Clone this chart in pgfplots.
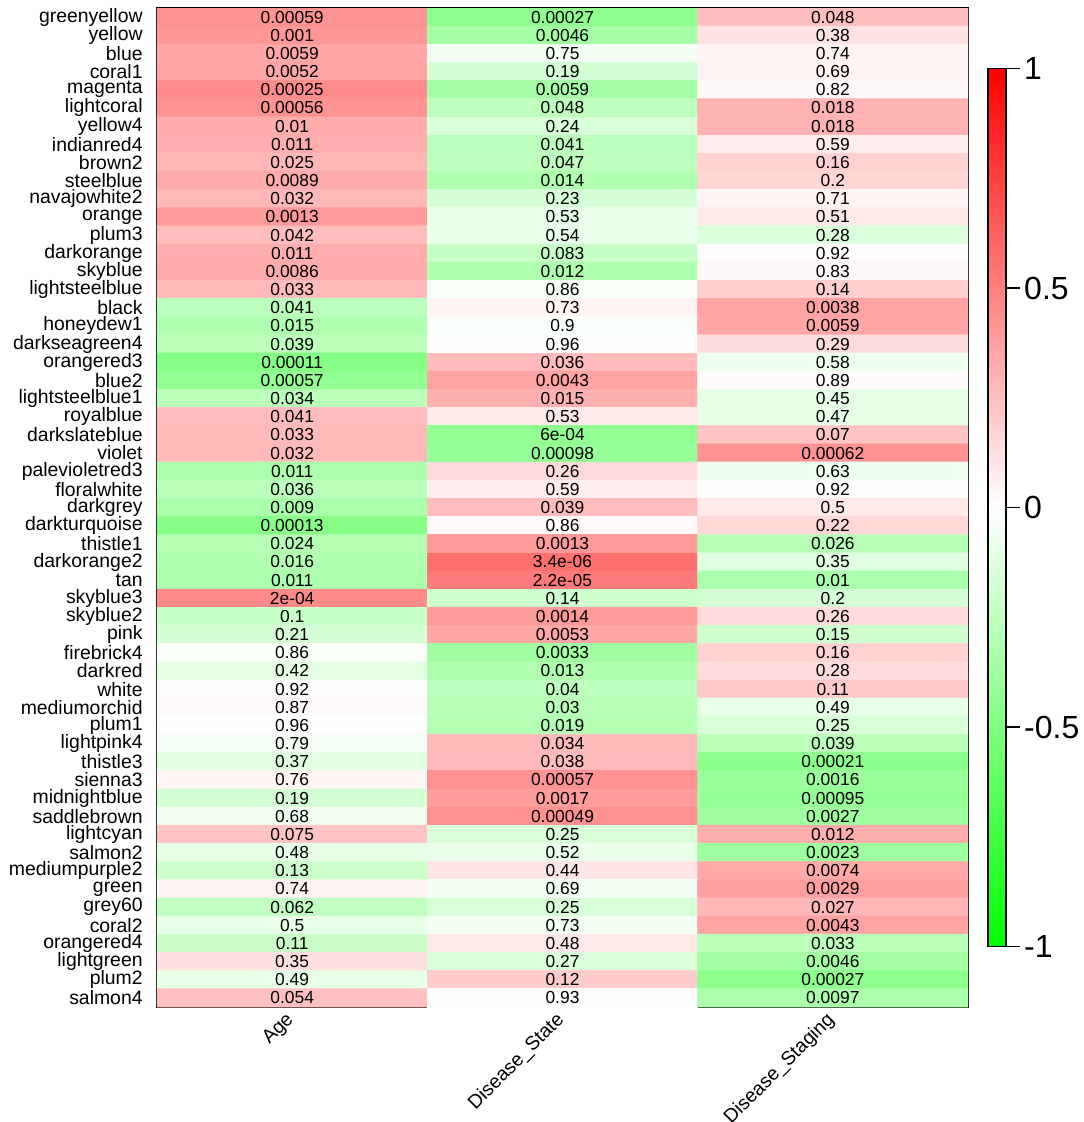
\documentclass[border=0pt]{standalone}
\usepackage{fontspec}
\setmainfont{Liberation Sans}
\usepackage{pgfplots}
\usepackage{pgfplotstable}
\pgfplotsset{compat=1.18}
\pgfplotstableread{
x y r p
0 0 0.425 0.00059
1 0 -0.450 0.00027
2 0 0.254 0.048
0 1 0.408 0.001
1 1 -0.356 0.0046
2 1 0.114 0.38
0 2 0.347 0.0059
1 2 -0.041 0.75
2 2 0.043 0.74
0 3 0.352 0.0052
1 3 -0.170 0.19
2 3 0.052 0.69
0 4 0.452 0.00025
1 4 -0.347 0.0059
2 4 0.029 0.82
0 5 0.427 0.00056
1 5 -0.254 0.048
2 5 0.301 0.018
0 6 0.326 0.01
1 6 -0.153 0.24
2 6 0.301 0.018
0 7 0.322 0.011
1 7 -0.262 0.041
2 7 0.070 0.59
0 8 0.286 0.025
1 8 -0.255 0.047
2 8 0.182 0.16
0 9 0.330 0.0089
1 9 -0.311 0.014
2 9 0.167 0.2
0 10 0.274 0.032
1 10 -0.155 0.23
2 10 0.049 0.71
0 11 0.398 0.0013
1 11 -0.082 0.53
2 11 0.086 0.51
0 12 0.261 0.042
1 12 -0.080 0.54
2 12 -0.140 0.28
0 13 0.322 0.011
1 13 -0.224 0.083
2 13 0.013 0.92
0 14 0.332 0.0086
1 14 -0.317 0.012
2 14 0.028 0.83
0 15 0.272 0.033
1 15 -0.023 0.86
2 15 0.190 0.14
0 16 -0.262 0.041
1 16 0.045 0.73
2 16 0.363 0.0038
0 17 -0.309 0.015
1 17 -0.017 0.9
2 17 0.347 0.0059
0 18 -0.265 0.039
1 18 0.006 0.96
2 18 0.138 0.29
0 19 -0.476 0.00011
1 19 0.269 0.036
2 19 -0.072 0.58
0 20 -0.426 0.00057
1 20 0.360 0.0043
2 20 0.018 0.89
0 21 -0.271 0.034
1 21 0.309 0.015
2 21 -0.098 0.45
0 22 0.262 0.041
1 22 0.082 0.53
2 22 -0.094 0.47
0 23 0.272 0.033
1 23 -0.424 6e-04
2 23 0.233 0.07
0 24 0.274 0.032
1 24 -0.408 0.00098
2 24 0.423 0.00062
0 25 -0.322 0.011
1 25 0.146 0.26
2 25 -0.063 0.63
0 26 -0.269 0.036
1 26 0.070 0.59
2 26 -0.013 0.92
0 27 -0.330 0.009
1 27 0.265 0.039
2 27 0.088 0.5
0 28 -0.471 0.00013
1 28 0.023 0.86
2 28 0.159 0.22
0 29 -0.288 0.024
1 29 0.398 0.0013
2 29 -0.283 0.026
0 30 -0.305 0.016
1 30 0.561 3.4e-06
2 30 -0.121 0.35
0 31 -0.322 0.011
1 31 0.519 2.2e-05
2 31 -0.326 0.01
0 32 0.458 2e-04
1 32 -0.190 0.14
2 32 -0.167 0.2
0 33 -0.213 0.1
1 33 0.397 0.0014
2 33 0.146 0.26
0 34 -0.163 0.21
1 34 0.351 0.0053
2 34 -0.186 0.15
0 35 -0.023 0.86
1 35 -0.368 0.0033
2 35 0.182 0.16
0 36 -0.105 0.42
1 36 -0.315 0.013
2 36 0.140 0.28
0 37 0.013 0.92
1 37 -0.263 0.04
2 37 0.207 0.11
0 38 0.021 0.87
1 38 -0.277 0.03
2 38 -0.090 0.49
0 39 0.006 0.96
1 39 -0.299 0.019
2 39 -0.149 0.25
0 40 -0.035 0.79
1 40 0.271 0.034
2 40 -0.265 0.039
0 41 -0.117 0.37
1 41 0.266 0.038
2 41 -0.456 0.00021
0 42 0.040 0.76
1 42 0.426 0.00057
2 42 -0.392 0.0016
0 43 -0.170 0.19
1 43 0.390 0.0017
2 43 -0.409 0.00095
0 44 -0.053 0.68
1 44 0.431 0.00049
2 44 -0.375 0.0027
0 45 0.229 0.075
1 45 -0.149 0.25
2 45 0.317 0.012
0 46 -0.092 0.48
1 46 -0.084 0.52
2 46 -0.380 0.0023
0 47 -0.196 0.13
1 47 0.100 0.44
2 47 0.339 0.0074
0 48 0.043 0.74
1 48 -0.052 0.69
2 48 0.374 0.0029
0 49 -0.240 0.062
1 49 -0.149 0.25
2 49 0.282 0.027
0 50 -0.088 0.5
1 50 -0.045 0.73
2 50 0.360 0.0043
0 51 -0.207 0.11
1 51 0.092 0.48
2 51 -0.272 0.033
0 52 0.121 0.35
1 52 -0.144 0.27
2 52 -0.356 0.0046
0 53 -0.090 0.49
1 53 0.201 0.12
2 53 -0.450 0.00027
0 54 0.247 0.054
1 54 0.011 0.93
2 54 -0.327 0.0097
}\data
\begin{document}
\begin{tikzpicture}
\useasboundingbox (0,0) rectangle (541.5pt,561pt);
\begin{axis}[
  at={(78.5pt,57.5pt)}, anchor=south west,
  scale only axis, width=405.5pt, height=499.5pt,
  xmin=-0.5, xmax=2.5, ymin=-0.5, ymax=54.5,
  enlargelimits=false,
  y dir=reverse,
  axis line style={black, line width=0.8pt},
  major tick length=0pt,
  xtick={0,1,2},
  xticklabels={Age,Disease\_State,Disease\_Staging},
  xticklabel style={rotate=45, anchor=east, inner sep=0pt, font=\fontsize{9.7}{10}\selectfont, yshift=-3.15pt, xshift=-3.9pt},
  ytick={0,...,54},
  yticklabels={greenyellow,yellow,blue,coral1,magenta,lightcoral,yellow4,indianred4,brown2,steelblue,navajowhite2,orange,plum3,darkorange,skyblue,lightsteelblue,black,honeydew1,darkseagreen4,orangered3,blue2,lightsteelblue1,royalblue,darkslateblue,violet,palevioletred3,floralwhite,darkgrey,darkturquoise,thistle1,darkorange2,tan,skyblue3,skyblue2,pink,firebrick4,darkred,white,mediumorchid,plum1,lightpink4,thistle3,sienna3,midnightblue,saddlebrown,lightcyan,salmon2,mediumpurple2,green,grey60,coral2,orangered4,lightgreen,plum2,salmon4},
  yticklabel style={anchor=east, inner sep=0pt, xshift=-7pt, font=\fontsize{9.7}{10}\selectfont},
  colormap={gwr}{rgb255(0)=(0,255,0) rgb255(1)=(255,255,255) rgb255(2)=(255,0,0)},
  point meta min=-1, point meta max=1,
  colorbar,
  colorbar shift/.style={xshift=0pt},
  colorbar style={
    at={(parent axis.right of south east)}, anchor=south west, xshift=9.5pt, yshift=30.25pt,
    scale only axis, width=9pt, height=439pt,
    ytick={-1,-0.5,0,0.5,1},
    yticklabels={-1,-0.5,0,0.5,1},
    ytick pos=right, yticklabel pos=right,
    tick align=outside,
    major tick length=7pt,
    tick style={black, line width=0.8pt},
    axis line style={black, line width=0.8pt},
    yticklabel style={inner sep=0pt, xshift=2pt, font=\fontsize{16}{16}\selectfont},
  },
]
\addplot[matrix plot*, mesh/cols=3, point meta=explicit] table[x=x, y=y, meta=r] {\data};
\addplot[draw=none, mark=none, color=black, point meta=explicit symbolic,
  nodes near coords={\pgfplotspointmeta},
  nodes near coords align=center,
  every node near coord/.append style={anchor=center, inner sep=0pt, text=black, font=\fontsize{8.7}{9}\selectfont}]
  table[x=x, y=y, meta=p] {\data};
\end{axis}
\end{tikzpicture}
\end{document}
